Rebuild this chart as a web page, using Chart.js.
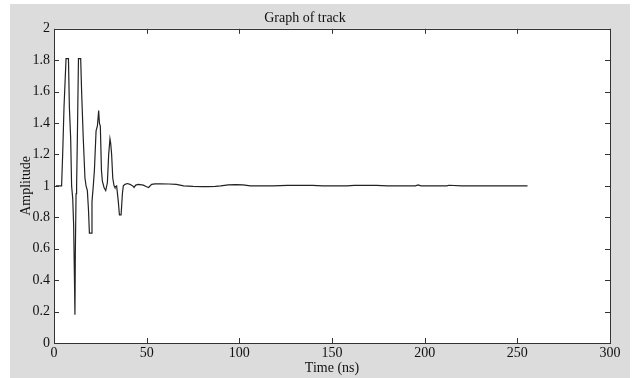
<!DOCTYPE html>
<html>
<head>
<meta charset="utf-8">
<script src="https://cdn.jsdelivr.net/npm/chart.js@4/dist/chart.umd.min.js"></script>
<style>
  html, body { margin: 0; padding: 0; background: #ffffff; }
  #wrap { width: 635px; height: 378px; position: relative; }
</style>
</head>
<body>
<div id="wrap"><canvas id="c" width="635" height="378"></canvas></div>
<script>
// ---- data ----
const chartTitle = "Graph of track";
const xAxisTitle = "Time (ns)";
const yAxisTitle = "Amplitude";

const xTickValues = [0, 50, 100, 150, 200, 250, 300];
const yTickValues = [0, 0.2, 0.4, 0.6, 0.8, 1, 1.2, 1.4, 1.6, 1.8, 2];
const yTickLabels = ["0", "0.2", "0.4", "0.6", "0.8", "1", "1.2", "1.4", "1.6", "1.8", "2"];

const timeNs = [
  1, 2, 3, 4.1, 4.7, 5.4, 6.5, 7.8, 8.3, 9.0, 9.5, 10.1, 10.6, 11.0, 11.3, 11.5, 11.9, 12.2, 12.6, 13.2, 14.4,
  14.9, 15.8, 16.7, 17.3, 18.0, 18.6, 19.1, 20.0, 20.5, 21.2, 21.8, 22.7, 23.4, 24.1, 24.5, 25.0, 25.6, 26.1,
  27.0, 27.9, 28.8, 29.5, 30.2, 30.6, 31.1, 31.7, 32.4, 32.9, 33.8, 34.7, 35.3, 36.2, 36.9, 37.4, 38.3, 39.6,
  41.0, 42.5, 43.2, 44.1, 45.5, 48.2, 50.0, 51.0, 52.7, 54.5, 57.2, 62, 66, 70, 75, 80, 83.5, 87, 90, 94, 98,
  102, 106, 110, 118, 126, 132, 139.5, 145, 152, 158, 162, 168, 174, 180, 188, 195, 196.5, 198, 205, 212,
  213, 220, 230, 240, 248, 255.5
];
const amplitude = [
  1.0, 1.0, 1.0, 1.0, 1.21, 1.5, 1.81, 1.81, 1.5, 1.3, 1.0, 0.92, 0.75, 0.44, 0.18, 0.56, 0.95, 1.0, 1.3, 1.81, 1.81,
  1.6, 1.3, 1.05, 1.0, 0.97, 0.85, 0.7, 0.7, 0.9, 1.0, 1.1, 1.35, 1.38, 1.48, 1.4, 1.38, 1.1, 1.03,
  0.99, 0.97, 1.02, 1.2, 1.3, 1.27, 1.2, 1.05, 1.0, 0.99, 1.0, 0.9, 0.815, 0.815, 0.95, 1.0, 1.01, 1.015,
  1.01, 1.0, 0.99, 1.005, 1.01, 1.005, 0.995, 0.99, 1.01, 1.013, 1.013, 1.012, 1.01, 1.0, 0.997, 0.996, 0.995, 0.997, 1.0, 1.007, 1.008,
  1.007, 1.0, 1.0, 1.0, 1.003, 1.003, 1.003, 1.0, 1.0, 1.0, 1.003, 1.003, 1.003, 1.0, 1.0, 1.0, 1.006, 1.0, 1.0, 1.0,
  1.004, 1.0, 1.0, 1.0, 1.0, 1.0
];

// ---- build chart ----
const points = timeNs.map((t, i) => ({ x: t, y: amplitude[i] }));
const SERIF = "'Liberation Serif', 'Times New Roman', serif";

const framePlugin = {
  id: 'frame',
  beforeDraw(chart) {
    const ctx = chart.ctx;
    const a = chart.chartArea;
    ctx.save();
    ctx.fillStyle = '#ffffff';
    ctx.fillRect(0, 0, chart.width, chart.height);
    ctx.fillStyle = '#dcdcdc';
    ctx.fillRect(10, 4, 620, chart.height - 4);
    ctx.fillStyle = '#ffffff';
    ctx.fillRect(a.left, a.top, a.right - a.left, a.bottom - a.top);
    ctx.restore();
  },
  afterDraw(chart) {
    const ctx = chart.ctx;
    const a = chart.chartArea;
    const xs = chart.scales.x, ys = chart.scales.y;
    const L = 5;
    ctx.save();
    ctx.strokeStyle = '#333333';
    ctx.lineWidth = 1;
    ctx.beginPath();
    xTickValues.forEach(v => {
      const px = Math.round(xs.getPixelForValue(v)) + 0.5;
      ctx.moveTo(px, a.bottom); ctx.lineTo(px, a.bottom - L);
      ctx.moveTo(px, a.top); ctx.lineTo(px, a.top + L);
    });
    yTickValues.forEach(v => {
      const py = Math.round(ys.getPixelForValue(v)) + 0.5;
      ctx.moveTo(a.left, py); ctx.lineTo(a.left + L, py);
      ctx.moveTo(a.right, py); ctx.lineTo(a.right - L, py);
    });
    ctx.stroke();
    ctx.strokeRect(Math.round(a.left) + 0.5, Math.round(a.top) + 0.5,
                   Math.round(a.right - a.left), Math.round(a.bottom - a.top));
    ctx.restore();
  }
};

new Chart(document.getElementById('c'), {
  type: 'line',
  data: {
    datasets: [{
      data: points,
      borderColor: '#222222',
      borderWidth: 1.2,
      pointRadius: 0,
      tension: 0,
      fill: false
    }]
  },
  options: {
    responsive: false,
    animation: false,
    events: [],
    layout: { padding: { left: 0, right: 25, top: 0, bottom: 0 } },
    plugins: {
      legend: { display: false },
      tooltip: { enabled: false },
      title: {
        display: true,
        text: chartTitle,
        color: '#111111',
        font: { family: SERIF, size: 14, weight: 'normal', lineHeight: 1.2 },
        padding: { top: 10, bottom: 2 }
      }
    },
    scales: {
      x: {
        type: 'linear',
        min: 0, max: 300,
        afterBuildTicks(s) { s.ticks = xTickValues.map(v => ({ value: v })); },
        afterFit(s) { s.height = 35; },
        grid: { display: false, drawTicks: false },
        border: { display: false },
        ticks: {
          color: '#111111',
          padding: 2,
          maxRotation: 0,
          font: { family: SERIF, size: 14 },
          callback: (v) => String(v)
        },
        title: {
          display: true, text: xAxisTitle, color: '#111111',
          font: { family: SERIF, size: 14, lineHeight: 1.2 },
          padding: { top: 0, bottom: 1 }
        }
      },
      y: {
        type: 'linear',
        min: 0, max: 2,
        afterBuildTicks(s) { s.ticks = yTickValues.map(v => ({ value: v })); },
        afterFit(s) { s.width = 54; },
        grid: { display: false, drawTicks: false },
        border: { display: false },
        ticks: {
          color: '#111111',
          padding: 4,
          font: { family: SERIF, size: 14 },
          callback: (v) => {
            const i = yTickValues.findIndex(t => Math.abs(t - v) < 1e-9);
            return i >= 0 ? yTickLabels[i] : '';
          }
        },
        title: {
          display: true, text: yAxisTitle, color: '#111111',
          font: { family: SERIF, size: 14, lineHeight: 1.2 },
          padding: { top: 18, bottom: 0 }
        }
      }
    }
  },
  plugins: [framePlugin]
});
</script>
</body>
</html>
